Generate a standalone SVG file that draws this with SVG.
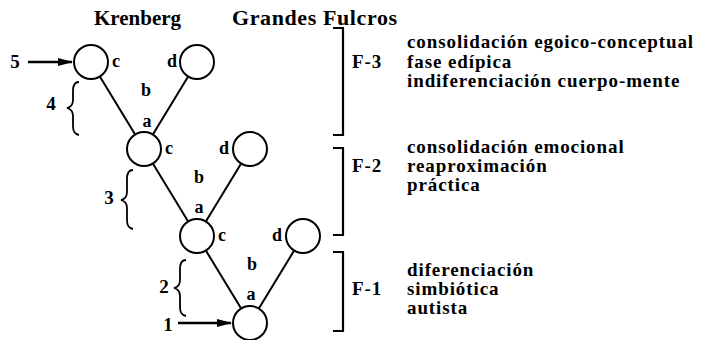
<svg xmlns="http://www.w3.org/2000/svg" width="707" height="340" viewBox="0 0 707 340">
<style>
text{font-family:"Liberation Serif","Times New Roman",serif;font-weight:bold;fill:#000}
.hd{font-size:21px}
.tx{font-size:19px;letter-spacing:0.9px}
.lb{font-size:18px;text-anchor:middle}
.nm{font-size:19px;text-anchor:middle}
.n{fill:#fff;stroke:#000;stroke-width:2}
.ln{stroke:#000;stroke-width:2;fill:none}
.ar{stroke:#000;stroke-width:2.6;fill:none}
.br{stroke:#000;stroke-width:1.8;fill:none}
.bk{stroke:#000;stroke-width:2.2;fill:none}
</style>
<defs>
<marker id="ah" markerWidth="15" markerHeight="9" refX="14" refY="4.5" orient="auto" markerUnits="userSpaceOnUse">
<path d="M0,0.5 L15,4.5 L0,8.5 Z" fill="#000"/>
</marker>
</defs>
<rect width="707" height="340" fill="#fff"/>
<text class="hd" x="94" y="25">Krenberg</text>
<text class="hd" x="232" y="25" style="font-size:22px;letter-spacing:0.6px">Grandes Fulcros</text>
<g id="connectors">
<line class="ln" x1="135.15" y1="134.48" x2="99.85" y2="76.52"/>
<line class="ln" x1="152.85" y1="134.48" x2="188.15" y2="76.52"/>
<line class="ln" x1="188.15" y1="221.48" x2="152.85" y2="163.52"/>
<line class="ln" x1="205.85" y1="221.48" x2="241.15" y2="163.52"/>
<line class="ln" x1="241.15" y1="308.48" x2="205.85" y2="250.52"/>
<line class="ln" x1="258.85" y1="308.48" x2="294.15" y2="250.52"/>
<line class="ar" x1="28" y1="62" x2="72" y2="62" marker-end="url(#ah)"/>
<line class="ar" x1="178" y1="323" x2="231" y2="323" marker-end="url(#ah)"/>
</g>
<g id="node-c3"><circle class="n" cx="91" cy="62" r="17"/></g>
<g id="node-d3"><circle class="n" cx="197" cy="62" r="17"/></g>
<g id="node-c2"><circle class="n" cx="144" cy="149" r="17"/></g>
<g id="node-d2"><circle class="n" cx="250" cy="149" r="17"/></g>
<g id="node-c1"><circle class="n" cx="197" cy="236" r="17"/></g>
<g id="node-d1"><circle class="n" cx="303" cy="236" r="17"/></g>
<g id="node-a1"><circle class="n" cx="250" cy="323" r="17"/></g>
<g id="labels">
<text class="lb" x="116" y="67">c</text>
<text class="lb" x="172" y="67">d</text>
<text class="lb" x="146" y="96">b</text>
<text class="lb" x="147" y="127">a</text>
<text class="lb" x="169" y="154">c</text>
<text class="lb" x="224" y="154">d</text>
<text class="lb" x="199" y="183">b</text>
<text class="lb" x="199" y="213">a</text>
<text class="lb" x="222" y="241">c</text>
<text class="lb" x="277" y="241">d</text>
<text class="lb" x="252" y="270">b</text>
<text class="lb" x="251" y="300">a</text>
<text class="nm" x="15" y="68">5</text>
<text class="nm" x="51" y="110">4</text>
<text class="nm" x="109" y="204">3</text>
<text class="nm" x="164" y="293">2</text>
<text class="nm" x="168" y="331">1</text>
</g>
<g id="braces">
<path class="br" d="M79,82 C74,82 73,86 73,91 L73,100 C73,104 71,107 67,108 C71,109 73,112 73,116 L73,126 C73,131 74,134 79,135"/>
<path class="br" d="M133,170 C128,170 127,174 127,179 L127,192 C127,196 125,199 121,200 C125,201 127,204 127,208 L127,220 C127,225 128,228 133,229"/>
<path class="br" d="M186,260 C181,260 180,264 180,269 L180,280 C180,284 178,287 174,288 C178,289 180,292 180,296 L180,307 C180,312 181,315 186,316"/>
</g>
<g id="fulcro-3">
<path class="bk" d="M333,28 L343,28 L343,135 L333,135"/>
<text class="tx" x="352" y="68">F-3</text>
<text class="tx" x="407" y="48">consolidación egoico-conceptual</text>
<text class="tx" x="407" y="68">fase edípica</text>
<text class="tx" x="407" y="87">indiferenciación cuerpo-mente</text>
</g>
<g id="fulcro-2">
<path class="bk" d="M333,148 L343,148 L343,235 L333,235"/>
<text class="tx" x="352" y="172">F-2</text>
<text class="tx" x="407" y="153">consolidación emocional</text>
<text class="tx" x="407" y="172">reaproximación</text>
<text class="tx" x="407" y="191">práctica</text>
</g>
<g id="fulcro-1">
<path class="bk" d="M333,252 L343,252 L343,331 L333,331"/>
<text class="tx" x="352" y="295">F-1</text>
<text class="tx" x="407" y="276">diferenciación</text>
<text class="tx" x="407" y="295">simbiótica</text>
<text class="tx" x="407" y="314">autista</text>
</g>
</svg>
